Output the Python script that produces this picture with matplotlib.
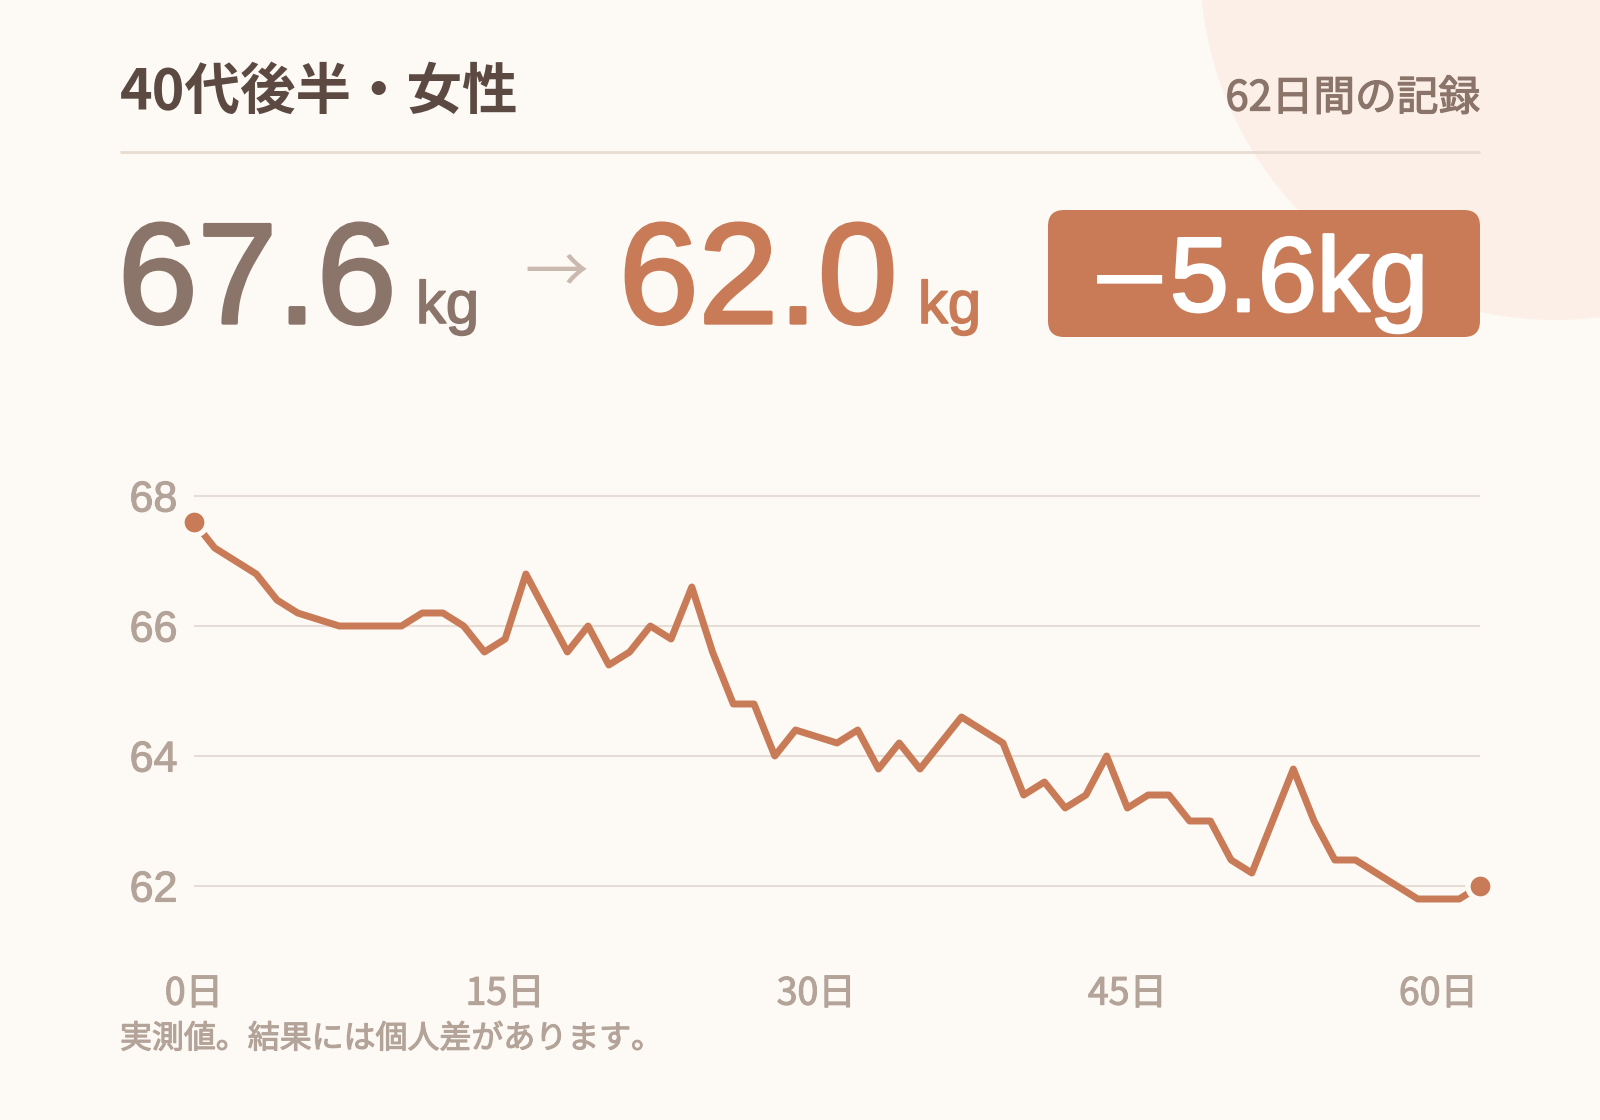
import matplotlib
matplotlib.use('Agg')
import matplotlib.pyplot as plt
from matplotlib.patches import Circle, FancyBboxPatch
import matplotlib.patheffects as pe

# --- data -------------------------------------------------------------
days = list(range(63))
weights = [67.6, 67.2, 67.0, 66.8, 66.4, 66.2, 66.1, 66.0, 66.0, 66.0,
           66.0, 66.2, 66.2, 66.0, 65.6, 65.8, 66.8, 66.2, 65.6, 66.0,
           65.4, 65.6, 66.0, 65.8, 66.6, 65.6, 64.8, 64.8, 64.0, 64.4,
           64.3, 64.2, 64.4, 63.8, 64.2, 63.8, 64.2, 64.6, 64.4, 64.2,
           63.4, 63.6, 63.2, 63.4, 64.0, 63.2, 63.4, 63.4, 63.0, 63.0,
           62.4, 62.2, 63.0, 63.8, 63.0, 62.4, 62.4, 62.2, 62.0, 61.8,
           61.8, 61.8, 62.0]
y_ticks = [62, 64, 66, 68]
x_ticks = [0, 15, 30, 45, 60]
x_labels = ['0日', '15日', '30日', '45日', '60日']

title = '40代後半・女性'
period = '62日間の記録'
start_w = 67.6
end_w = 62.0
note = '実測値。結果には個人差があります。'

# --- colours -----------------------------------------------------------
BG = '#fdfaf5'
CIRCLE = '#fbefe7'
TITLE = '#5c4a42'
MUTED = '#8b746a'
ACCENT = '#c87b56'
ARROW = '#c9b9af'
GRID = '#e6ddd6'
RULE = '#e8dcd2'
TICK = '#b4a399'

plt.rcParams['font.family'] = ['Noto Sans CJK JP', 'DejaVu Sans']
LATIN = ['Liberation Sans', 'DejaVu Sans']

W, H = 1600, 1120
fig = plt.figure(figsize=(16, 11.2), dpi=100, facecolor=BG)

# background layer in pixel units (y down)
bg = fig.add_axes([0, 0, 1, 1], zorder=0)
bg.set_xlim(0, W)
bg.set_ylim(H, 0)
bg.axis('off')


def heavy(c, w=1.6):
    return [pe.withStroke(linewidth=w, foreground=c)]


bg.add_patch(Circle((1555, -35), 355, color=CIRCLE, lw=0))
bg.plot([120, 1480], [152, 152], color=RULE, lw=2, solid_capstyle='butt')

bg.text(120, 93, title, fontsize=40, fontweight='bold', color=TITLE,
        ha='left', va='center')
bg.text(1480, 99, period, fontsize=30, color=MUTED, ha='right',
        va='center', path_effects=heavy(MUTED, 0.9))

bg.text(118, 323, f'{start_w:.1f}', fontsize=103, family=LATIN, color=MUTED,
        ha='left', va='baseline', path_effects=heavy(MUTED, 2.4))
bg.text(416, 323, 'kg', fontsize=43, family=LATIN, color=MUTED,
        ha='left', va='baseline', path_effects=heavy(MUTED, 1.2))
bg.text(556, 274, '→', fontsize=46, color=ARROW, ha='center', va='center')
bg.text(619, 323, f'{end_w:.1f}', fontsize=103, family=LATIN, color=ACCENT,
        ha='left', va='baseline', path_effects=heavy(ACCENT, 2.4))
bg.text(918, 323, 'kg', fontsize=43, family=LATIN, color=ACCENT,
        ha='left', va='baseline', path_effects=heavy(ACCENT, 1.2))

bg.add_patch(FancyBboxPatch((1048, 210), 432, 127,
                            boxstyle='round,pad=0,rounding_size=16',
                            fc=ACCENT, ec='none'))
diff = end_w - start_w
sign = '\u2212' if diff < 0 else '+'
bg.text(1130, 311, sign, fontsize=75, family=['DejaVu Sans'],
        color='white', ha='center', va='baseline')
bg.text(1170, 311, f'{abs(diff):.1f}kg', fontsize=76, family=LATIN,
        color='white', ha='left', va='baseline',
        path_effects=heavy('white', 2.0))

bg.text(120, 1039, note, fontsize=23, color=TICK, ha='left', va='center',
        path_effects=heavy(TICK, 0.8))

# --- chart -------------------------------------------------------------
ax = fig.add_axes([194 / W, 1 - 951 / H, 1286 / W, 487.5 / H], zorder=1)
ax.set_facecolor('none')
ax.set_xlim(0, 62)
ax.set_ylim(61.0, 68.5)

ax.plot(days, weights, color=ACCENT, lw=5, solid_joinstyle='round',
        solid_capstyle='butt', zorder=3)
ax.plot([days[0], days[-1]], [weights[0], weights[-1]], 'o', ms=18,
        mfc=ACCENT, mec=BG, mew=3.8, clip_on=False, zorder=4)

ax.set_yticks(y_ticks)
ax.set_yticklabels([str(t) for t in y_ticks], family=LATIN, fontsize=31,
                   color=TICK)
ax.set_xticks(x_ticks)
ax.set_xticklabels(x_labels, fontsize=27, color=TICK)
for lbl in ax.get_xticklabels() + ax.get_yticklabels():
    lbl.set_path_effects(heavy(TICK, 0.8))
ax.tick_params(axis='y', length=0, pad=12)
ax.tick_params(axis='x', length=0, pad=17)
ax.grid(axis='y', color=GRID, lw=1.5)
ax.grid(axis='x', visible=False)
for s in ax.spines.values():
    s.set_visible(False)

fig.savefig('out.png', dpi=100, facecolor=BG)
